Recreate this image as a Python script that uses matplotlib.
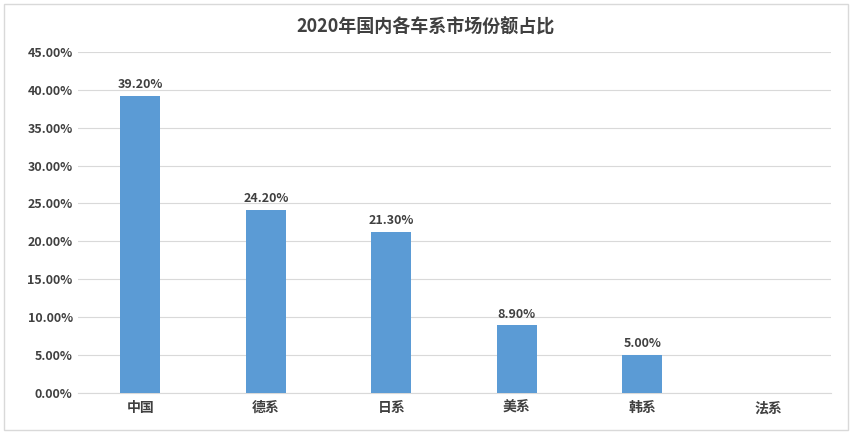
import matplotlib.pyplot as plt
from matplotlib.ticker import FuncFormatter

plt.rcParams["font.family"] = ["Noto Sans CJK SC", "DejaVu Sans"]

categories = ["中国", "德系", "日系", "美系", "韩系", "法系"]
shares = [39.2, 24.2, 21.3, 8.9, 5.0, None]

fig = plt.figure(figsize=(8.52, 4.34), dpi=100)
ax = fig.add_axes([0.091, 0.095, 0.884, 0.785])
border = plt.Rectangle((0.005, 0.01), 0.99, 0.98, transform=fig.transFigure,
                       fill=False, edgecolor="#d9d9d9", linewidth=1)
fig.patches.append(border)

xs = list(range(len(categories)))
for x, v in zip(xs, shares):
    if v is None:
        continue
    ax.bar(x, v, width=0.32, color="#5b9bd5", zorder=3)
    ax.text(x, v + 0.6, f"{v:.2f}%", ha="center", va="bottom",
            fontsize=9, fontweight="bold", color="#404040")

ax.set_xlim(-0.5, len(categories) - 0.5)
ax.set_ylim(0, 45)
ax.set_yticks([i * 5 for i in range(10)])
ax.yaxis.set_major_formatter(FuncFormatter(lambda v, _: f"{v:.2f}%"))
ax.set_xticks(xs)
ax.set_xticklabels(categories, fontsize=10, fontweight="bold", color="#404040")
ax.tick_params(axis="y", labelsize=9, colors="#404040", length=0)
for lbl in ax.get_yticklabels():
    lbl.set_fontweight("bold")
ax.tick_params(axis="x", length=0, pad=6)
ax.grid(axis="y", color="#d9d9d9", linewidth=0.8, zorder=0)
for side in ["top", "right", "left"]:
    ax.spines[side].set_visible(False)
ax.spines["bottom"].set_color("#d9d9d9")

fig.suptitle("2020年国内各车系市场份额占比", fontsize=13, fontweight="bold",
             color="#404040", y=0.96)

fig.savefig("out.png", dpi=100)
